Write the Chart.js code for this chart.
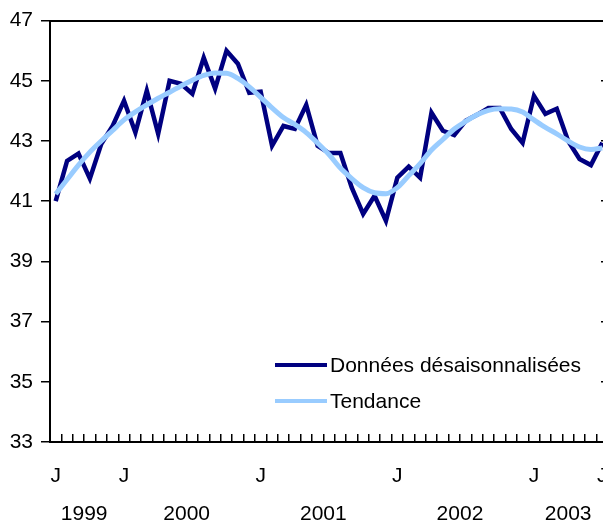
<!DOCTYPE html>
<html lang="fr">
<head>
<meta charset="utf-8">
<title>Données désaisonnalisées et tendance</title>
<script src="https://cdn.jsdelivr.net/npm/chart.js@4.4.1/dist/chart.umd.min.js"></script>
<style>
  html, body { margin: 0; padding: 0; background: #fff; overflow: hidden; }
  #wrap { position: relative; width: 603px; height: 521px; overflow: hidden; }
  #chart { position: absolute; left: 0; top: 0; }
  #legend { position: absolute; left: 275px; top: 347px; font: 21px "Liberation Sans", Arial, sans-serif; color: #000; }
  #legend .item { display: flex; align-items: center; height: 36px; white-space: nowrap; }
  #legend .swatch { width: 52px; height: 4px; margin-right: 3px; }
</style>
</head>
<body>
<div id="wrap">
  <canvas id="chart" width="622" height="521"></canvas>
  <div id="legend"></div>
</div>
<script>
// mois, de juillet 1999 à juillet 2003
const moisFr = ['janv.', 'févr.', 'mars', 'avr.', 'mai', 'juin', 'juil.', 'août', 'sept.', 'oct.', 'nov.', 'déc.'];
const categories = [];
for (let k = 0; k < 49; k++) {
    const m = (6 + k) % 12;
    const y = 1999 + Math.floor((6 + k) / 12);
    categories.push(moisFr[m] + ' ' + y);
}

// étiquettes de l'axe
const tickIndex = [0, 6, 18, 30, 42, 48];
const tickText = ['J', 'J', 'J', 'J', 'J', 'J'];
const yearLabels = ['1999', '2000', '2001', '2002', '2003'];
const yearCenters = [2.5, 11.5, 23.5, 35.5, 45];
const yTicks = [33, 35, 37, 39, 41, 43, 45, 47];

// séries
const seasAdj = [
    41.0, 42.34, 42.58, 41.75, 42.9, 43.5, 44.34, 43.28, 44.67, 43.24,
    45.0, 44.9, 44.57, 45.77, 44.74, 46.0, 45.57, 44.6, 44.64, 42.84,
    43.5, 43.4, 44.2, 42.84, 42.6, 42.6, 41.45, 40.58, 41.18, 40.35,
    41.78, 42.15, 41.78, 43.94, 43.34, 43.2, 43.67, 43.87, 44.1, 44.1,
    43.4, 42.94, 44.5, 43.9, 44.07, 43.0, 42.4, 42.2, 42.94
];
const trend = [
    41.24, 41.72, 42.2, 42.63, 43.0, 43.35, 43.7, 43.97, 44.2, 44.42,
    44.62, 44.83, 45.02, 45.18, 45.26, 45.25, 45.08, 44.8, 44.45, 44.1,
    43.78, 43.55, 43.28, 42.93, 42.55, 42.1, 41.75, 41.45, 41.28, 41.25,
    41.45, 41.85, 42.25, 42.7, 43.05, 43.4, 43.65, 43.87, 44.02, 44.07,
    44.06, 43.96, 43.7, 43.45, 43.24, 43.0, 42.8, 42.72, 42.77
];

const FONT = { family: "'Liberation Sans', Arial, sans-serif", size: 21 };

// pas de marge horizontale ajoutée par les étiquettes
function noSidePad(s) {
    s.paddingLeft = 0;
    s.paddingRight = 0;
}

const ctx = document.getElementById('chart').getContext('2d');
const chart = new Chart(ctx, {
    type: 'line',
    data: {
        labels: categories,
        datasets: [
            {
                label: 'Données désaisonnalisées',
                data: seasAdj,
                borderColor: '#000080',
                borderWidth: 4.5,
                pointRadius: 0,
                tension: 0,
                order: 1
            },
            {
                label: 'Tendance',
                data: trend,
                borderColor: '#99ccff',
                borderWidth: 5,
                pointRadius: 0,
                cubicInterpolationMode: 'monotone',
                order: 0
            }
        ]
    },
    options: {
        responsive: false,
        animation: false,
        events: [],
        layout: { padding: { top: 20, left: 0, right: 0, bottom: 0 } },
        plugins: {
            legend: { display: false },
            tooltip: { enabled: false }
        },
        scales: {
            x: {
                type: 'category',
                position: 'bottom',
                weight: 0,
                offset: true,
                grid: { offset: true, drawOnChartArea: false, tickLength: -8, color: '#000', lineWidth: 1.5 },
                border: { display: true, color: '#000', width: 2 },
                ticks: {
                    autoSkip: false,
                    maxRotation: 0,
                    padding: 30,
                    color: '#000',
                    font: FONT,
                    callback: (v, i) => {
                        const p = tickIndex.indexOf(i);
                        return p >= 0 ? tickText[p] : '';
                    }
                },
                afterFit: s => { s.height = 52; noSidePad(s); }
            },
            years: {
                type: 'linear',
                position: 'bottom',
                weight: 1,
                min: -0.5,
                max: 48.5,
                bounds: 'data',
                grid: { display: false },
                border: { display: false },
                ticks: {
                    autoSkip: false,
                    maxRotation: 0,
                    padding: 0,
                    color: '#000',
                    font: FONT,
                    callback: (v, i) => yearLabels[i]
                },
                afterBuildTicks: s => { s.ticks = yearCenters.map(v => ({ value: v })); },
                afterFit: s => { s.height = 27; noSidePad(s); }
            },
            xTop: {
                type: 'linear',
                position: 'top',
                min: 0,
                max: 1,
                grid: { display: true, drawOnChartArea: false, drawTicks: false },
                border: { display: true, color: '#000', width: 2 },
                ticks: { display: false },
                afterFit: s => { s.height = 0; noSidePad(s); }
            },
            y: {
                position: 'left',
                min: 33,
                max: 47,
                afterBuildTicks: s => { s.ticks = yTicks.map(v => ({ value: v })); },
                grid: { drawOnChartArea: false, tickLength: 9, color: '#000', lineWidth: 1.5 },
                border: { color: '#000', width: 2 },
                ticks: { padding: 8, color: '#000', font: FONT },
                afterFit: s => { s.width = 50; }
            },
            y2: {
                position: 'right',
                min: 33,
                max: 47,
                afterBuildTicks: s => { s.ticks = yTicks.map(v => ({ value: v })); },
                grid: { drawOnChartArea: false, tickLength: -7, color: '#000', lineWidth: 1.5 },
                border: { color: '#000', width: 2 },
                ticks: { display: false },
                afterFit: s => { s.width = 14; }
            }
        }
    }
});

// légende dans la zone du graphique
const legendEl = document.getElementById('legend');
chart.data.datasets.forEach(ds => {
    const item = document.createElement('div');
    item.className = 'item';
    const sw = document.createElement('span');
    sw.className = 'swatch';
    sw.style.background = ds.borderColor;
    const txt = document.createElement('span');
    txt.textContent = ds.label;
    item.appendChild(sw);
    item.appendChild(txt);
    legendEl.appendChild(item);
});
</script>
</body>
</html>
